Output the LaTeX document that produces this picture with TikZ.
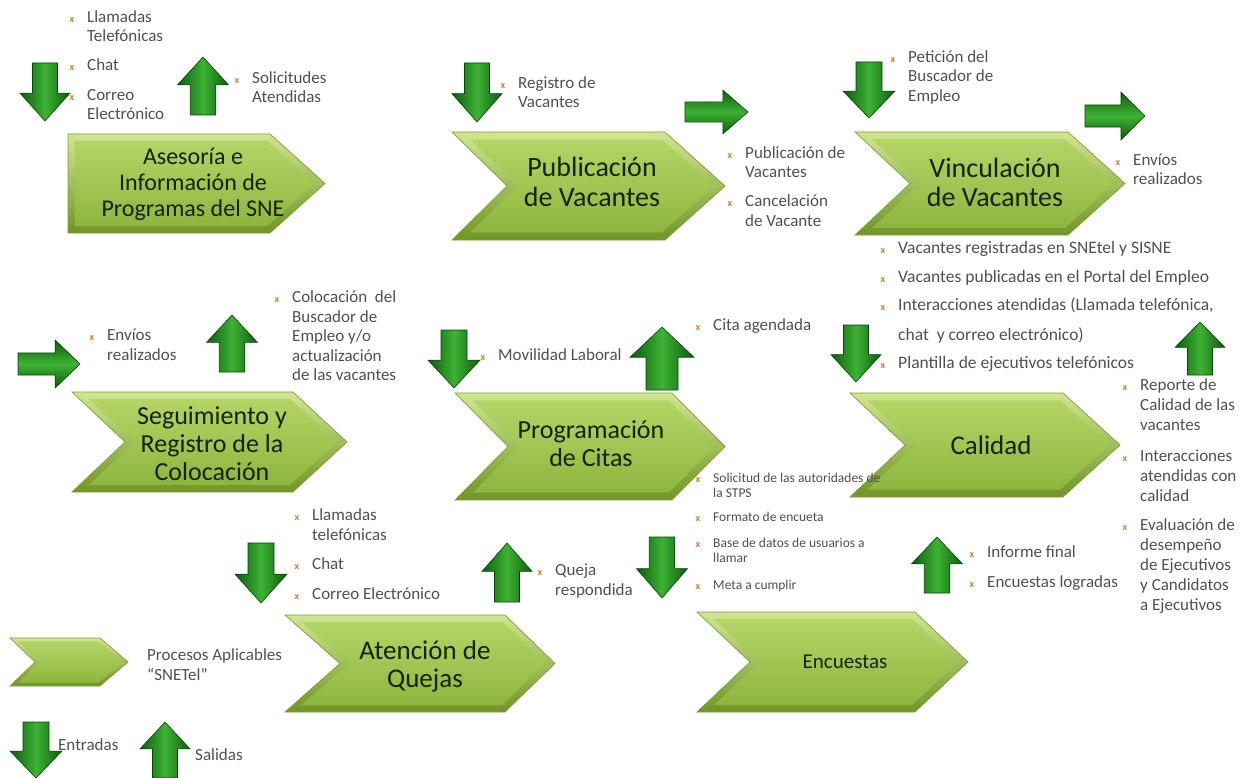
\documentclass[tikz,border=0pt]{standalone}
\usepackage{fontspec}
\setmainfont{Carlito}
\usetikzlibrary{calc}

\definecolor{txtgray}{RGB}{80,80,80}
\definecolor{titletxt}{RGB}{22,34,10}
\definecolor{mkorange}{RGB}{205,125,45}
\definecolor{rimtop}{RGB}{208,230,145}
\definecolor{rimbot}{RGB}{112,150,38}
\definecolor{facetop}{RGB}{180,212,102}
\definecolor{facebot}{RGB}{142,182,62}
\definecolor{chevedge}{RGB}{125,160,50}
\definecolor{arrdark}{RGB}{12,92,12}
\definecolor{arrmid}{RGB}{62,178,52}
\definecolor{arredge}{RGB}{6,70,6}

\tikzset{
  chevrim/.style={top color=rimtop, bottom color=rimbot, draw=chevedge, line width=0.7pt, line join=miter},
  chevface/.style={top color=facetop, bottom color=facebot},
  vblock/.style={left color=arrdark, right color=arrdark, middle color=arrmid, draw=arredge, line width=0.6pt, line join=miter},
  hblock/.style={top color=arrdark, bottom color=arrdark, middle color=arrmid, draw=arredge, line width=0.6pt, line join=miter},
  title/.style={text=titletxt, align=center, inner sep=0pt},
  % anchored on the baseline of the last line
  item/.style={anchor=base west, align=left, font=\fontsize{17}{19.5}\selectfont, text=txtgray, inner sep=0pt},
  wideitem/.style={item, font=\fontsize{17}{20}\selectfont},
  listitem/.style={item, font=\fontsize{17.5}{20}\selectfont},
  smallitem/.style={item, font=\fontsize{13.5}{15.5}\selectfont},
}

% orange list marker set to the left of the first line
\newcommand\bulletmark{\llap{\textcolor{mkorange}{\fontsize{10}{10}\selectfont\bfseries x}\hspace{13pt}}}

% process chevron: x-left, y-top, x-right, y-bottom, notch depth, tip depth
\newcommand\procchevron[6]{%
  \pgfmathsetmacro\chvmid{(#2+#4)/2}%
  \pgfmathsetmacro\chvd{0.07*(#4-#2)}%
  \pgfmathsetmacro\chvl{#1+\chvd*(1+1.41*(#5>0))}%
  \pgfmathsetmacro\chvn{#1+#5+\chvd*(1+0.41*(#5>0))}%
  \path[chevrim] (#1,#2) -- ({#3-#6},#2) -- (#3,\chvmid) -- ({#3-#6},#4) -- (#1,#4) -- ({#1+#5},\chvmid) -- cycle;
  \path[chevface] (\chvl,{#2+\chvd}) -- ({#3-#6-0.41*\chvd},{#2+\chvd}) -- ({#3-1.41*\chvd},\chvmid)
     -- ({#3-#6-0.41*\chvd},{#4-\chvd}) -- (\chvl,{#4-\chvd}) -- (\chvn,\chvmid) -- cycle;
}

% vertical block arrow: centre x, base y, tip y, width
\newcommand\vblockarrow[4]{%
  \path[vblock] ({#1-#4/4},#2) -- ({#1+#4/4},#2) -- ({#1+#4/4},{#3-0.48*(#3-#2)})
    -- ({#1+#4/2},{#3-0.48*(#3-#2)}) -- (#1,#3) -- ({#1-#4/2},{#3-0.48*(#3-#2)})
    -- ({#1-#4/4},{#3-0.48*(#3-#2)}) -- cycle;
}
% horizontal block arrow: centre y, base x, tip x, height
\newcommand\hblockarrow[4]{%
  \path[hblock] (#2,{#1-0.23*#4}) -- ({#3-0.4*(#3-#2)},{#1-0.23*#4}) -- ({#3-0.4*(#3-#2)},{#1-#4/2})
    -- (#3,#1) -- ({#3-0.4*(#3-#2)},{#1+#4/2}) -- ({#3-0.4*(#3-#2)},{#1+0.23*#4})
    -- (#2,{#1+0.23*#4}) -- cycle;
}

\begin{document}
\begin{tikzpicture}[x=1pt,y=-1pt]
\useasboundingbox[fill=white] (0,0) rectangle (1257,778);

% ---------- process chevrons ----------
\procchevron{68}{134}{325}{233}{0}{55}
\procchevron{452}{132}{725}{240}{55}{60}
\procchevron{855}{132}{1125}{235}{55}{57}
\procchevron{72}{392}{347}{492}{53}{54}
\procchevron{455}{393}{725}{500}{53}{53}
\procchevron{850}{393}{1120}{497}{55}{57}
\procchevron{285}{615}{555}{712}{55}{50}
\procchevron{697}{612}{968}{712}{53}{53}
\procchevron{10}{638}{128}{686}{25}{28}

\node[title, font=\fontsize{24}{26}\selectfont] (asesoria) at (193,184) {Asesoría e\\Información de\\Programas del SNE};
\node[title, font=\fontsize{28}{30}\selectfont] (publicacion) at (592,182) {Publicación\\de Vacantes};
\node[title, font=\fontsize{28}{29}\selectfont] (vinculacion) at (995,182) {Vinculación\\de Vacantes};
\node[title, font=\fontsize{26}{28}\selectfont] (seguimiento) at (212,444) {Seguimiento y\\Registro de la\\Colocación};
\node[title, font=\fontsize{26}{28}\selectfont] (programacion) at (591,444) {Programación\\de Citas};
\node[title, font=\fontsize{27}{29}\selectfont] (calidad) at (991,445) {Calidad};
\node[title, font=\fontsize{27}{28}\selectfont] (quejas) at (425,666) {Atención de\\Quejas};
\node[title, font=\fontsize{21}{23}\selectfont] (encuestas) at (845,662) {Encuestas};

% ---------- block arrows (inputs / outputs) ----------
\vblockarrow{45}{63}{121}{50}
\vblockarrow{203}{115}{57}{51}
\vblockarrow{477}{63}{122}{50}
\hblockarrow{112}{685}{748}{44}
\vblockarrow{869}{62}{118}{52}
\hblockarrow{116}{1085}{1145}{48}
\hblockarrow{364}{18}{80}{48}
\vblockarrow{232}{372}{315}{51}
\vblockarrow{454}{330}{388}{52}
\vblockarrow{662}{390}{327}{64}
\vblockarrow{856}{325}{382}{50}
\vblockarrow{1200}{375}{322}{50}
\vblockarrow{261}{543}{603}{52}
\vblockarrow{507}{602}{543}{50}
\vblockarrow{662}{537}{598}{51}
\vblockarrow{937}{593}{537}{51}
\vblockarrow{36}{722}{778}{52}
\vblockarrow{165}{778}{722}{50}

% ---------- Asesoría ----------
\node[item] (a1) at (87,42) {\bulletmark Llamadas\\Telefónicas};
\node[item] (a2) at (87,70.5) {\bulletmark Chat};
\node[item] (a3) at (87,120) {\bulletmark Correo\\Electrónico};
\node[item] (b1) at (252,103) {\bulletmark Solicitudes\\Atendidas};

% ---------- Publicación ----------
\node[item] (c1) at (518,108) {\bulletmark Registro de\\Vacantes};
\node[item] (d1) at (745,178) {\bulletmark Publicación de\\Vacantes};
\node[item] (d2) at (745,226) {\bulletmark Cancelación\\de Vacante};

% ---------- Vinculación ----------
\node[item] (e1) at (908,101.5) {\bulletmark Petición del\\Buscador de\\Empleo};
\node[item] (f1) at (1133,185) {\bulletmark Envíos\\realizados};

% ---------- Calidad inputs ----------
\node[listitem] (g1) at (898,253.5) {\bulletmark Vacantes registradas en SNEtel y SISNE};
\node[listitem] (g2) at (898,282.5) {\bulletmark Vacantes publicadas en el Portal del Empleo};
\node[listitem] (g3) at (898,310.5) {\bulletmark Interacciones atendidas (Llamada telefónica,};
\node[listitem] (g4) at (898,340.5) {chat~~y correo electrónico)};
\node[listitem] (g5) at (898,368.5) {\bulletmark Plantilla de ejecutivos telefónicos};

% ---------- Seguimiento ----------
\node[item] (h1) at (107,360) {\bulletmark Envíos\\realizados};
\node[item] (i1) at (292,380.5) {\bulletmark Colocación~~del\\Buscador de\\Empleo y/o\\actualización\\de las vacantes};

% ---------- Programación ----------
\node[item] (j1) at (498,360.5) {\bulletmark Movilidad Laboral};
\node[item] (k1) at (713,330.5) {\bulletmark Cita agendada};

% ---------- Encuestas inputs ----------
\node[smallitem] (l1) at (713,497.5) {\bulletmark Solicitud de las autoridades de\\la STPS};
\node[smallitem] (l2) at (713,521) {\bulletmark Formato de encueta};
\node[smallitem] (l3) at (713,562.5) {\bulletmark Base de datos de usuarios a\\llamar};
\node[smallitem] (l4) at (713,589) {\bulletmark Meta a cumplir};

% ---------- Calidad outputs ----------
\node[wideitem] (m1) at (1140,430.5) {\bulletmark Reporte de\\Calidad de las\\vacantes};
\node[wideitem] (m2) at (1140,501.5) {\bulletmark Interacciones\\atendidas con\\calidad};
\node[wideitem] (m3) at (1140,610.5) {\bulletmark Evaluación de\\desempeño\\de Ejecutivos\\y Candidatos\\a Ejecutivos};

% ---------- Atención de Quejas ----------
\node[item] (n1) at (312,540) {\bulletmark Llamadas\\telefónicas};
\node[item] (n2) at (312,569.5) {\bulletmark Chat};
\node[item] (n3) at (312,599.5) {\bulletmark Correo Electrónico};
\node[item] (o1) at (555,595) {\bulletmark Queja\\respondida};

% ---------- Encuestas outputs ----------
\node[item] (p1) at (987,557.5) {\bulletmark Informe final};
\node[item] (p2) at (987,587.5) {\bulletmark Encuestas logradas};

% ---------- legend ----------
\node[item] (q1) at (147,680) {Procesos Aplicables\\“SNETel”};
\node[item] (q2) at (58,750.5) {Entradas};
\node[item] (q3) at (195,760.5) {Salidas};
\end{tikzpicture}
\end{document}
